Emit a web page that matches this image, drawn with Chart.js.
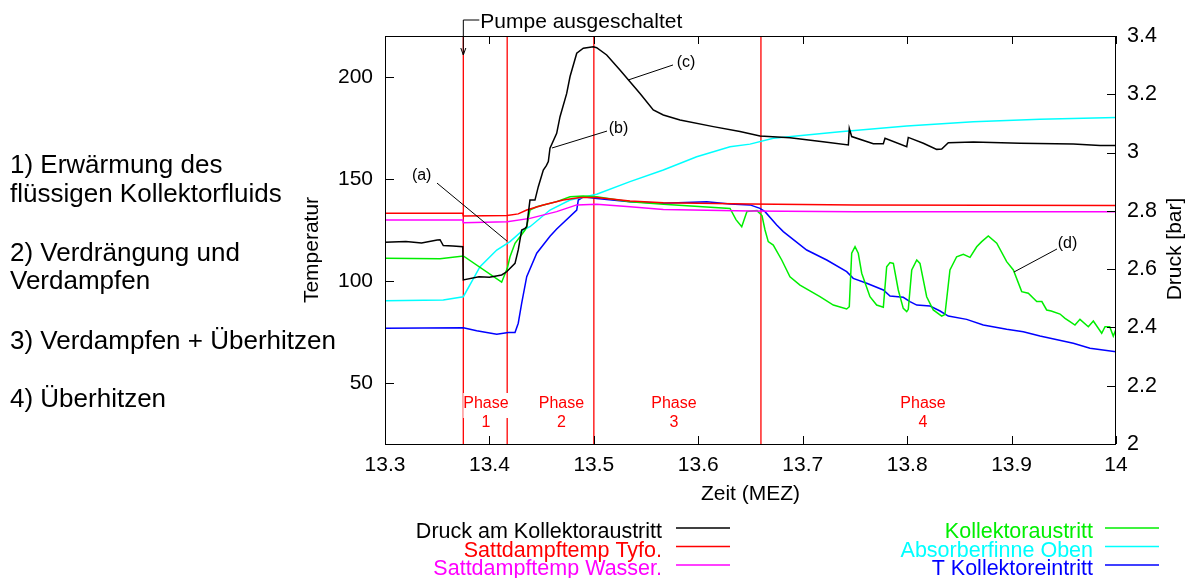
<!DOCTYPE html>
<html>
<head>
<meta charset="utf-8">
<script src="https://cdn.jsdelivr.net/npm/chart.js"></script>
<style>
  body { margin: 0; background: #fff; }
</style>
</head>
<body>
<canvas id="chart" width="1197" height="578"></canvas>
<script>
const schrift = "'Liberation Sans', Arial, sans-serif"

// Achsen
const zeitTicks = [13.3, 13.4, 13.5, 13.6, 13.7, 13.8, 13.9, 14]
const tempTicks = [50, 100, 150, 200]
const druckTicks = [2, 2.2, 2.4, 2.6, 2.8, 3, 3.2, 3.4]

// Messreihen (Zeit in h MEZ)
const druckZeit = [13.3, 13.32, 13.335, 13.35, 13.3527, 13.3558, 13.365, 13.3745, 13.375, 13.39, 13.40, 13.4117, 13.4165, 13.4245, 13.4276, 13.4309, 13.4341, 13.4357, 13.4388, 13.4436, 13.4468, 13.4516, 13.4545, 13.4564, 13.458, 13.4644, 13.4676, 13.474, 13.4772, 13.4836, 13.4899, 13.4995, 13.5027, 13.5123, 13.525, 13.5346, 13.5442, 13.5569, 13.5665, 13.5825, 13.6144, 13.6399, 13.6591, 13.6878, 13.7194, 13.7437, 13.7446, 13.7469, 13.7676, 13.7772, 13.7788, 13.7996, 13.8011, 13.8155, 13.8283, 13.8331, 13.8394, 13.8634, 13.9081, 13.9591, 13.9847, 14.0]
const druckWerte = [2.692, 2.695, 2.690, 2.700, 2.701, 2.681, 2.679, 2.677, 2.563, 2.574, 2.572, 2.580, 2.591, 2.620, 2.666, 2.734, 2.740, 2.746, 2.837, 2.837, 2.883, 2.940, 2.955, 2.969, 3.015, 3.066, 3.123, 3.203, 3.261, 3.341, 3.358, 3.363, 3.360, 3.335, 3.283, 3.243, 3.203, 3.146, 3.129, 3.112, 3.089, 3.072, 3.057, 3.051, 3.037, 3.026, 3.083, 3.055, 3.030, 3.030, 3.049, 3.020, 3.052, 3.032, 3.011, 3.012, 3.034, 3.036, 3.032, 3.029, 3.024, 3.024]

const tyfoZeit = [13.3, 13.3745, 13.375, 13.417, 13.4276, 13.4357, 13.4516, 13.4707, 13.4867, 13.5027, 13.5346, 13.5665, 13.6495, 13.75, 14.0]
const tyfoWerte = [133.1, 133.1, 131.8, 132.0, 132.8, 134.7, 137.2, 139.6, 140.8, 140.8, 139.1, 138.3, 137.6, 137.2, 136.9]

const wasserZeit = [13.3, 13.3745, 13.375, 13.417, 13.4388, 13.4644, 13.4836, 13.5027, 13.5346, 13.5665, 13.6495, 13.75, 14.0]
const wasserWerte = [129.8, 129.8, 128.5, 129.0, 130.6, 133.9, 137.2, 137.5, 136.3, 135.0, 134.2, 133.9, 133.9]

const austrittZeit = [13.3, 13.3527, 13.375, 13.4117, 13.4171, 13.4197, 13.4245, 13.4293, 13.4341, 13.4357, 13.4388, 13.4453, 13.4644, 13.4772, 13.4899, 13.5027, 13.5346, 13.5665, 13.6304, 13.6361, 13.6416, 13.6466, 13.6562, 13.661, 13.6639, 13.667, 13.6718, 13.6799, 13.6878, 13.6974, 13.7165, 13.7293, 13.7421, 13.7446, 13.7469, 13.7501, 13.7532, 13.7565, 13.7644, 13.7708, 13.7772, 13.7804, 13.7836, 13.7868, 13.7915, 13.7963, 13.7996, 13.8011, 13.8044, 13.8092, 13.8123, 13.8187, 13.825, 13.8331, 13.8362, 13.841, 13.8474, 13.8538, 13.8602, 13.8666, 13.8714, 13.8777, 13.8858, 13.8953, 13.9017, 13.9097, 13.916, 13.9241, 13.929, 13.9336, 13.938, 13.9464, 13.9512, 13.9559, 13.9607, 13.9655, 13.9735, 13.9783, 13.9863, 13.9895, 13.994, 13.9974, 14.0]
const austrittWerte = [111.0, 110.8, 112.2, 99.3, 106.1, 111.8, 118.4, 121.6, 124.9, 126.5, 134.7, 136.3, 138.8, 141.2, 141.6, 141.2, 138.8, 137.5, 135.5, 130.0, 126.5, 134.0, 134.4, 132.0, 124.9, 119.2, 117.5, 110.2, 102.0, 97.9, 92.2, 88.1, 86.2, 87.3, 113.5, 116.7, 113.5, 103.7, 92.2, 88.1, 87.0, 106.9, 108.9, 108.5, 95.5, 86.5, 84.9, 86.0, 105.3, 110.2, 108.5, 92.2, 85.7, 82.7, 83.5, 105.3, 111.8, 113.0, 111.5, 116.7, 119.2, 122.0, 118.4, 109.4, 105.3, 94.7, 93.9, 89.8, 89.8, 85.7, 85.2, 83.7, 81.6, 80.0, 78.3, 81.1, 77.5, 80.3, 74.3, 77.5, 77.5, 72.9, 76.2]

const finneZeit = [13.3, 13.3558, 13.375, 13.391, 13.407, 13.4197, 13.4324, 13.4388, 13.458, 13.4772, 13.5027, 13.5346, 13.5665, 13.5985, 13.6304, 13.6495, 13.6718, 13.7357, 13.7996, 13.8634, 13.9272, 14.0]
const finneWerte = [90.2, 90.6, 92.2, 106.9, 115.1, 119.2, 124.9, 126.5, 134.7, 139.6, 142.4, 148.6, 154.3, 160.8, 165.7, 167.0, 169.9, 173.1, 175.9, 178.0, 179.2, 180.1]

const eintrittZeit = [13.3, 13.375, 13.3878, 13.407, 13.4181, 13.4245, 13.4276, 13.4309, 13.4357, 13.4453, 13.458, 13.4644, 13.4836, 13.4851, 13.4899, 13.5027, 13.5346, 13.5665, 13.6081, 13.6304, 13.6495, 13.6591, 13.6639, 13.6751, 13.6814, 13.7038, 13.723, 13.7421, 13.7484, 13.7613, 13.7772, 13.7836, 13.7963, 13.8027, 13.8092, 13.8219, 13.8315, 13.8394, 13.857, 13.8729, 13.8953, 13.9112, 13.9272, 13.9591, 13.9751, 14.0]
const eintrittWerte = [76.7, 77.0, 75.5, 73.8, 74.6, 74.6, 79.2, 89.0, 102.0, 113.5, 121.8, 125.4, 134.7, 139.6, 141.2, 140.4, 138.8, 138.0, 138.8, 137.6, 137.2, 135.5, 133.9, 127.4, 124.1, 115.1, 110.2, 104.5, 101.2, 98.8, 95.5, 92.5, 91.9, 89.8, 88.1, 87.6, 85.2, 82.7, 81.1, 78.3, 76.2, 75.0, 72.9, 69.4, 66.9, 65.2]

// Phasen
const phasenGrenzen = [13.375, 13.417, 13.5, 13.66]
const phasenMitte = [13.3967, 13.469, 13.5767, 13.8152]

// Beschriftungen (a)-(d): Text [t, T], Linie von [t, T] nach [t, T]
const markierungen = [
  { text: '(a)', pos: [13.3351, 151.4], von: [13.3498, 147.9], nach: [13.4168, 119.5] },
  { text: '(b)', pos: [13.5236, 174.4], von: [13.5126, 173.4], nach: [13.4599, 165.1] },
  { text: '(c)', pos: [13.5882, 206.8], von: [13.5758, 205.8], nach: [13.5327, 198.4] },
  { text: '(d)', pos: [13.9535, 118.0], von: [13.9435, 115.6], nach: [13.9023, 104.3] }
]

const phasenText = ['1) Erwärmung des', 'flüssigen Kollektorfluids', '2) Verdrängung und', 'Verdampfen', '3) Verdampfen + Überhitzen', '4) Überhitzen']
const phasenTextY = [173, 202, 261, 289, 349, 407]

function punkte(zeit, werte) {
  return zeit.map((t, i) => ({ x: t, y: werte[i] }))
}

const zeichnen = {
  id: 'zeichnen',
  beforeDatasetsDraw(chart) {
    const { ctx, chartArea: a, scales: { x, y } } = chart
    ctx.save()
    ctx.strokeStyle = '#ff0000'
    ctx.lineWidth = 1.3
    phasenGrenzen.forEach(t => {
      const px = x.getPixelForValue(t)
      ctx.beginPath()
      ctx.moveTo(px, a.top)
      ctx.lineTo(px, a.bottom)
      ctx.stroke()
    })
    ctx.font = '16px ' + schrift
    ctx.textAlign = 'center'
    ctx.textBaseline = 'middle'
    phasenMitte.forEach((t, i) => {
      const px = x.getPixelForValue(t)
      const w = ctx.measureText('Phase').width
      ctx.fillStyle = '#fff'
      ctx.fillRect(px - w / 2, 393, w, 25)
      ctx.fillStyle = '#ff0000'
      ctx.fillText('Phase', px, 404)
      ctx.fillText(String(i + 1), px, 423)
    })
    ctx.restore()
  },
  afterDraw(chart) {
    const { ctx, chartArea: a, scales: { x, y, y1 } } = chart
    ctx.save()

    // Rahmen und Ticks nach innen
    ctx.strokeStyle = '#000'
    ctx.lineWidth = 1
    ctx.strokeRect(a.left + 0.5, a.top + 0.5, a.right - a.left - 1, a.bottom - a.top)
    ctx.beginPath()
    zeitTicks.forEach(t => {
      const px = Math.round(x.getPixelForValue(t)) + 0.5
      ctx.moveTo(px, a.bottom); ctx.lineTo(px, a.bottom - 8)
      ctx.moveTo(px, a.top); ctx.lineTo(px, a.top + 8)
    })
    tempTicks.forEach(v => {
      const py = Math.round(y.getPixelForValue(v)) + 0.5
      ctx.moveTo(a.left, py); ctx.lineTo(a.left + 9, py)
    })
    druckTicks.forEach(v => {
      const py = Math.round(y1.getPixelForValue(v)) + 0.5
      ctx.moveTo(a.right, py); ctx.lineTo(a.right - 9, py)
    })
    ctx.stroke()

    // Achsentitel
    ctx.fillStyle = '#000'
    ctx.font = '21px ' + schrift
    ctx.textAlign = 'center'
    ctx.textBaseline = 'middle'
    ctx.fillText('Zeit (MEZ)', (a.left + a.right) / 2, 494)
    ctx.save()
    ctx.translate(312, 250)
    ctx.rotate(-Math.PI / 2)
    ctx.fillText('Temperatur', 0, 0)
    ctx.restore()
    ctx.save()
    ctx.translate(1175, 249)
    ctx.rotate(-Math.PI / 2)
    ctx.fillText('Druck [bar]', 0, 0)
    ctx.restore()

    // Pumpe ausgeschaltet
    const pumpeX = x.getPixelForValue(phasenGrenzen[0])
    ctx.beginPath()
    ctx.moveTo(pumpeX + 16, 20); ctx.lineTo(pumpeX, 20); ctx.lineTo(pumpeX, 55)
    ctx.moveTo(pumpeX - 2.5, 48); ctx.lineTo(pumpeX, 55); ctx.lineTo(pumpeX + 2.5, 48)
    ctx.stroke()
    ctx.textAlign = 'left'
    ctx.textBaseline = 'alphabetic'
    ctx.fillText('Pumpe ausgeschaltet', pumpeX + 17, 27.5)

    // (a) - (d)
    ctx.font = '16px ' + schrift
    ctx.textAlign = 'center'
    ctx.textBaseline = 'middle'
    markierungen.forEach(m => {
      ctx.fillText(m.text, x.getPixelForValue(m.pos[0]), y.getPixelForValue(m.pos[1]))
      ctx.beginPath()
      ctx.moveTo(x.getPixelForValue(m.von[0]), y.getPixelForValue(m.von[1]))
      ctx.lineTo(x.getPixelForValue(m.nach[0]), y.getPixelForValue(m.nach[1]))
      ctx.stroke()
    })

    // Phasenbeschreibung links
    ctx.font = '26px ' + schrift
    ctx.textAlign = 'left'
    ctx.textBaseline = 'alphabetic'
    phasenText.forEach((s, i) => ctx.fillText(s, 10, phasenTextY[i]))

    // Legende
    ctx.font = '21.5px ' + schrift
    ctx.textAlign = 'right'
    chart.data.datasets.forEach((ds, i) => {
      const rechts = i >= 3
      const textX = rechts ? 1093 : 662
      const linieX = rechts ? 1105 : 676
      const basis = [538, 556.5, 575][i % 3]
      ctx.fillStyle = ds.borderColor
      ctx.strokeStyle = ds.borderColor
      ctx.lineWidth = 1.5
      ctx.fillText(ds.label, textX, basis)
      ctx.beginPath()
      ctx.moveTo(linieX, basis - 10)
      ctx.lineTo(linieX + 54, basis - 10)
      ctx.stroke()
    })
    ctx.restore()
  }
}

Chart.defaults.font.family = schrift
Chart.defaults.color = '#000'

new Chart(document.getElementById('chart'), {
  type: 'line',
  data: {
    datasets: [
      { label: 'Druck am Kollektoraustritt', data: punkte(druckZeit, druckWerte), borderColor: '#000000', yAxisID: 'y1' },
      { label: 'Sattdampftemp Tyfo.', data: punkte(tyfoZeit, tyfoWerte), borderColor: '#ff0000', yAxisID: 'y' },
      { label: 'Sattdampftemp Wasser.', data: punkte(wasserZeit, wasserWerte), borderColor: '#ff00ff', yAxisID: 'y' },
      { label: 'Kollektoraustritt', data: punkte(austrittZeit, austrittWerte), borderColor: '#00ee00', yAxisID: 'y' },
      { label: 'Absorberfinne Oben', data: punkte(finneZeit, finneWerte), borderColor: '#00ffff', yAxisID: 'y' },
      { label: 'T Kollektoreintritt', data: punkte(eintrittZeit, eintrittWerte), borderColor: '#0000ff', yAxisID: 'y' }
    ]
  },
  options: {
    responsive: false,
    animation: false,
    layout: { padding: { top: 36, left: 0, right: 0, bottom: 0 } },
    elements: { point: { radius: 0 }, line: { borderWidth: 1.5, tension: 0 } },
    plugins: { legend: { display: false }, tooltip: { enabled: false } },
    scales: {
      x: {
        type: 'linear',
        min: 13.3,
        max: 14,
        grid: { display: false, drawTicks: false },
        border: { display: false },
        ticks: { padding: 9, font: { size: 21 }, maxRotation: 0, autoSkip: false, callback: v => String(v) },
        afterBuildTicks: s => { s.ticks = zeitTicks.map(v => ({ value: v })) },
        afterFit: s => { s.height = 134 }
      },
      y: {
        position: 'left',
        min: 20,
        max: 220,
        grid: { display: false, drawTicks: false },
        border: { display: false },
        ticks: { padding: 12, font: { size: 21 }, callback: v => String(v) },
        afterBuildTicks: s => { s.ticks = tempTicks.map(v => ({ value: v })) },
        afterFit: s => { s.width = 385 }
      },
      y1: {
        position: 'right',
        min: 2,
        max: 3.4,
        grid: { display: false, drawTicks: false },
        border: { display: false },
        ticks: { padding: 11, font: { size: 21.5 }, callback: v => String(v) },
        afterBuildTicks: s => { s.ticks = druckTicks.map(v => ({ value: v })) },
        afterFit: s => { s.width = 81 }
      }
    }
  },
  plugins: [zeichnen]
})
</script>
</body>
</html>
